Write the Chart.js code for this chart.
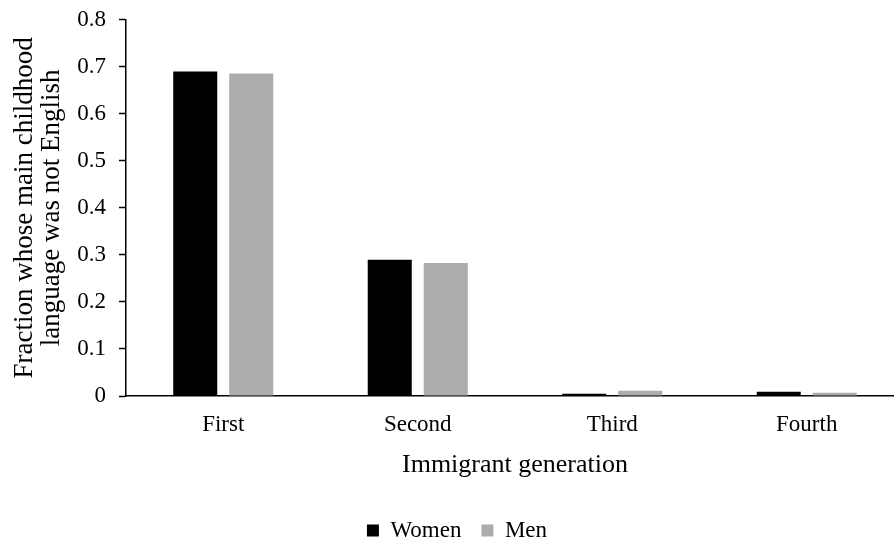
<!DOCTYPE html>
<html>
<head>
<meta charset="utf-8">
<script src="https://cdn.jsdelivr.net/npm/chart.js@4"></script>
<style>
  html, body { margin: 0; padding: 0; background: #fff; overflow: hidden; }
  #wrap { width: 904px; height: 552px; }
</style>
</head>
<body>
<div id="wrap"><canvas id="chart_language"></canvas></div>
<script>
var generations = ['First', 'Second', 'Third', 'Fourth'];
var womenValues = [0.690, 0.290, 0.005, 0.009];
var menValues = [0.686, 0.283, 0.011, 0.007];
var yTicks = [0, 0.1, 0.2, 0.3, 0.4, 0.5, 0.6, 0.7, 0.8];

var serif = "'Liberation Serif', 'Times New Roman', serif";

var chart_language = new Chart(document.getElementById('chart_language'), {
    type: 'bar',
    data: {
        labels: generations,
        datasets: [
            {
                label: 'Women',
                data: womenValues,
                backgroundColor: '#000000',
                borderWidth: 0,
                barPercentage: 0.786,
                categoryPercentage: 0.576
            },
            {
                label: 'Men',
                data: menValues,
                backgroundColor: '#AEABAB',
                borderWidth: 0,
                barPercentage: 0.786,
                categoryPercentage: 0.576
            }
        ]
    },
    options: {
        animation: false,
        responsive: true,
        maintainAspectRatio: false,
        layout: { padding: { top: 6, right: 0, bottom: 0, left: 10 } },
        plugins: {
            legend: {
                position: 'bottom',
                labels: {
                    color: '#000',
                    boxWidth: 12,
                    boxHeight: 12,
                    padding: 20,
                    font: { family: serif, size: 23 }
                }
            },
            tooltip: { enabled: false }
        },
        scales: {
            x: {
                grid: { display: false },
                border: { display: true, color: '#000', width: 1.5 },
                ticks: { color: '#000', padding: 7, font: { family: serif, size: 23 } },
                title: {
                    display: true,
                    text: 'Immigrant generation',
                    color: '#000',
                    padding: { top: 0, bottom: 18 },
                    font: { family: serif, size: 26 }
                },
                afterFit: function(scale) { scale.height = 103; }
            },
            y: {
                min: 0,
                max: 0.8,
                afterBuildTicks: function(scale) {
                    scale.ticks = yTicks.map(function(v) { return { value: v }; });
                },
                grid: { drawOnChartArea: false, tickLength: 7, color: '#000', tickWidth: 1.5 },
                border: { display: true, color: '#000', width: 1.5 },
                ticks: {
                    color: '#000',
                    padding: 13,
                    font: { family: serif, size: 23, lineHeight: 0.6 },
                    callback: function(value) { return value === 0 ? '0' : value.toFixed(1); }
                },
                title: {
                    display: true,
                    text: ['Fraction whose main childhood', 'language was not English'],
                    color: '#000',
                    padding: { top: 2, bottom: 0 },
                    font: { family: serif, size: 27, lineHeight: 0.98 }
                },
                afterFit: function(scale) { scale.width = 116; }
            }
        }
    },
    plugins: [{
        id: 'whiteBackground',
        beforeDraw: (chart) => {
            const ctx = chart.canvas.getContext('2d');
            ctx.save();
            ctx.globalCompositeOperation = 'destination-over';
            ctx.fillStyle = 'white';
            ctx.fillRect(0, 0, chart.canvas.width, chart.canvas.height);
            ctx.restore();
        }
    }]
});
</script>
</body>
</html>
